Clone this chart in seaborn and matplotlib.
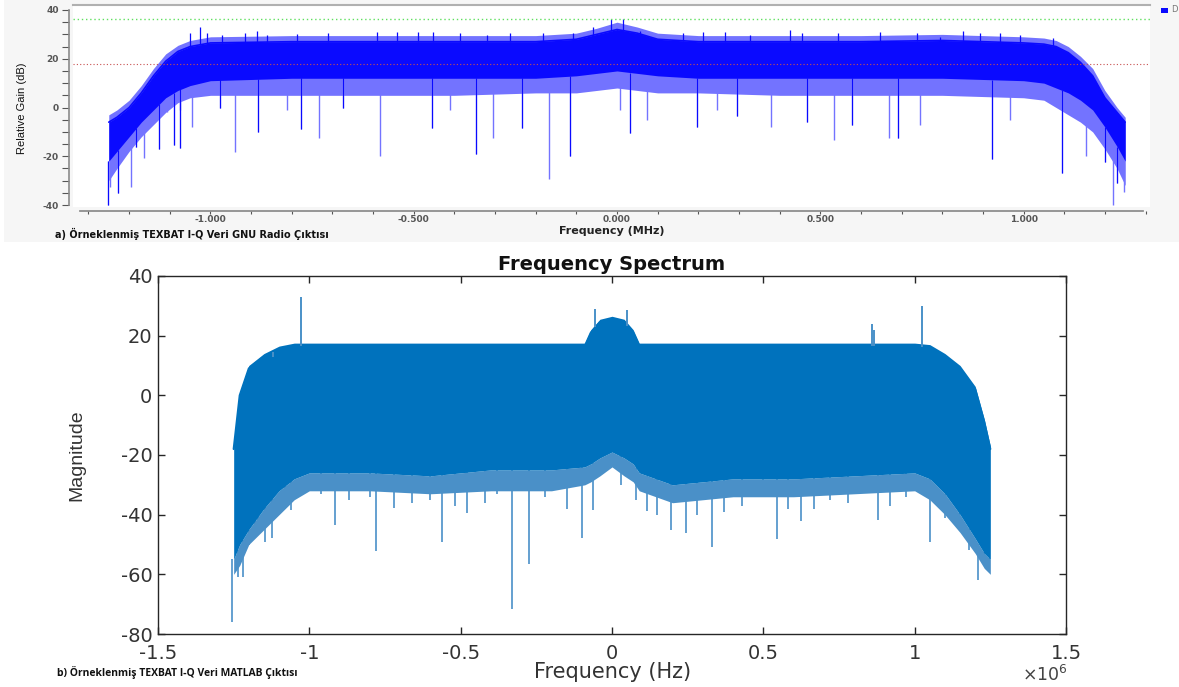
import matplotlib
matplotlib.use("Agg")
import matplotlib.pyplot as plt
from matplotlib.patches import Rectangle
from matplotlib.ticker import MultipleLocator, FuncFormatter
import numpy as np
import seaborn as sns

# ---- panel a: GNU Radio spectrum (MHz, dB) ----
freq_a = [-1.25, -1.23, -1.20, -1.17, -1.14, -1.11, -1.08, -1.05, -1.00, -0.80, -0.60,
          -0.40, -0.20, -0.10, -0.05, 0.00, 0.05, 0.10, 0.20, 0.40, 0.60, 0.80,
          1.00, 1.05, 1.08, 1.11, 1.14, 1.17, 1.20, 1.23, 1.25]
peak_a = [-3, -1, 3, 9, 16, 22, 25.5, 27.5, 29, 29.5, 29.5, 29.5, 29.5, 30.5, 32.5,
          35, 33, 30.5, 29.5, 29.5, 29.5, 30, 29, 28.5, 27.5, 25, 21, 16, 7, 0, -4]
core_hi_a = [-6, -4, 0, 6, 13, 19, 23, 25, 26.5, 27, 27, 27, 27, 28, 30,
             32, 30.5, 28, 27, 27, 27, 27.5, 26.5, 26, 25, 22.5, 18.5, 13, 4, -2, -6]
core_lo_a = [-22, -18, -12, -6, -1, 4, 7, 9, 11, 12, 12, 12, 12, 13, 14,
             15, 14, 13, 12, 12, 12, 12, 11, 10, 8, 6, 3, -1, -8, -16, -22]
floor_a = [-30, -25, -18, -12, -7, -2, 2, 4, 5, 5, 5, 5, 6, 6, 7,
           8, 7, 6, 6, 5, 5, 5, 4, 3, 0, -3, -6, -10, -17, -25, -32]
dip_f_a = [-1.252, -1.247, -1.227, -1.196, -1.183, -1.163, -1.126, -1.108, -1.09, -1.075,
           -1.074, -1.046, -0.977, -0.939, -0.882, -0.812, -0.776, -0.732, -0.674, -0.583,
           -0.455, -0.41, -0.347, -0.305, -0.234, -0.167, -0.116, 0.007, 0.032, 0.073,
           0.197, 0.245, 0.294, 0.379, 0.467, 0.534, 0.578, 0.669, 0.691, 0.745,
           0.922, 0.967, 1.095, 1.154, 1.20, 1.22, 1.23, 1.247]
dip_v_a = [-40, -32.6, -35, -32.6, -16, -20.7, -17, -1.7, -15.4, -1.2,
           -16.7, -8, 0, -18.3, -10, -1, -9, -12.5, -0.4, -20,
           -8.5, -1, -19, -12.5, -8.5, -29.4, -20, -1, -10.5, -5,
           -8, -1, -3.5, -8, -6, -13.3, -7, -12.6, -12.5, -7,
           -21, -5, -27, -20, -22.3, -40, -31, -34.6]
tip_f_a = [-1.05, -1.026, -1.009, -0.972, -0.915, -0.886, -0.862, -0.788, -0.711, -0.591,
           -0.542, -0.489, -0.452, -0.386, -0.32, -0.263, -0.182, -0.108, -0.059, -0.015,
           0.015, 0.057, 0.163, 0.212, 0.266, 0.327, 0.426, 0.454, 0.544, 0.647,
           0.737, 0.795, 0.851, 0.893, 0.942, 0.991, 1.073]
tip_v_a = [30.4, 33, 30.4, 29.8, 30.4, 31.4, 29.8, 30.2, 30.4, 31.1,
           31.1, 31.1, 31.1, 30.4, 29.8, 30.4, 30.4, 30.4, 33, 36.3,
           36.3, 31.5, 30.4, 31.1, 31.1, 29.8, 31.7, 30.4, 30.4, 31.1,
           30.4, 29, 31.4, 30.4, 30.6, 29.8, 28.4]
green_level = 36.5
red_level = 18

# ---- panel b: MATLAB spectrum (Hz, magnitude) ----
freq_b = [-1.25e6, -1.23e6, -1.20e6, -1.15e6, -1.10e6, -1.05e6, -1.00e6, -0.80e6, -0.60e6,
          -0.40e6, -0.20e6, -0.09e6, -0.07e6, -0.04e6, 0.0, 0.04e6, 0.07e6, 0.09e6,
          0.20e6, 0.40e6, 0.60e6, 0.80e6, 1.00e6, 1.05e6, 1.10e6, 1.15e6, 1.20e6, 1.23e6, 1.25e6]
core_hi_b = [-18, 0, 9, 13, 15.5, 16.5, 16.5, 16.5, 16.5, 16.5, 16.5, 16.5, 21, 24.5,
             25.5, 24.5, 21, 16.5, 16.5, 16.5, 16.5, 16.5, 16.5, 16, 13, 9, 2, -9, -18]
peak_b = [-17, 1, 10, 14, 16.5, 17.5, 17.5, 17.5, 17.5, 17.5, 17.5, 17.5, 22, 25.5,
          26.5, 25.5, 22, 17.5, 17.5, 17.5, 17.5, 17.5, 17.5, 17, 14, 10, 3, -8, -17]
core_lo_b = [-55, -50, -45, -38, -32, -28, -26, -26, -27, -25, -25, -24, -23, -21,
             -19, -21, -23, -26, -30, -28, -28, -27, -26, -28, -33, -40, -48, -53, -55]
floor_b = [-60, -57, -50, -45, -40, -35, -32, -32, -33, -32, -32, -30, -29, -27,
           -24, -27, -29, -32, -36, -34, -34, -33, -32, -35, -40, -46, -53, -58, -60]
dip_f_b = [-1.254e6, -1.237e6, -1.22e6, -1.2e6, -1.18e6, -1.17e6, -1.145e6, -1.123e6, -1.08e6,
           -1.06e6, -0.96e6, -0.914e6, -0.87e6, -0.80e6, -0.78e6, -0.72e6, -0.66e6, -0.60e6,
           -0.561e6, -0.52e6, -0.478e6, -0.42e6, -0.38e6, -0.33e6, -0.274e6, -0.22e6, -0.15e6,
           -0.099e6, -0.063e6, 0.03e6, 0.08e6, 0.116e6, 0.15e6, 0.195e6, 0.244e6, 0.28e6,
           0.33e6, 0.37e6, 0.43e6, 0.50e6, 0.545e6, 0.58e6, 0.624e6, 0.667e6, 0.72e6,
           0.78e6, 0.88e6, 0.92e6, 0.97e6, 1.052e6, 1.10e6, 1.145e6, 1.18e6, 1.21e6,
           1.228e6, 1.244e6]
dip_v_b = [-76, -61, -61, -50, -46.7, -42, -49.3, -47.7, -38, -38.3, -33, -43.3, -35, -34,
           -52.3, -37.7, -36, -35, -49, -37, -39.6, -36, -33, -71.7, -56.7, -34, -38,
           -47.8, -38.3, -30, -35, -38.9, -40, -45, -46, -40, -51, -39, -37, -34, -48.3,
           -38, -42, -38, -35, -36, -41.7, -37, -34, -49, -41, -45, -52, -62, -57, -59]
tip_f_b = [-1.027e6, -1.12e6, -0.055e6, 0.05e6, 0.858e6, 0.865e6, 1.023e6]
tip_v_b = [33, 13, 29, 28.5, 24, 22, 30]

sns.set_theme(style="white")
plt.rcParams["axes.unicode_minus"] = False

W, H = 1179, 687
fig = plt.figure(figsize=(W / 100, H / 100), dpi=100)
fig.patch.set_facecolor("white")


def fx(x):
    return x / W


def fy(y):
    return 1 - y / H


# grey backdrop of the GNU Radio screenshot
fig.patches.append(Rectangle((fx(4), fy(242)), 1 - fx(4), 242 / H, transform=fig.transFigure,
                             facecolor="#f6f6f6", edgecolor="none", zorder=-5))

# ---------------- panel a ----------------
ax1 = fig.add_axes([fx(73), fy(207), 1077 / W, 202 / H])
ax1.set_facecolor("white")
blue = "#0a0aff"
light = "#7373ff"
ax1.fill_between(freq_a, floor_a, peak_a, color=light, lw=0, zorder=2)
ax1.fill_between(freq_a, core_lo_a, core_hi_a, color=blue, lw=0, zorder=3)
sns.lineplot(x=freq_a, y=core_hi_a, ax=ax1, color=blue, lw=1.2, zorder=3)
ax1.vlines(dip_f_a, dip_v_a, np.interp(dip_f_a, freq_a, core_lo_a), color=light, lw=1.0, zorder=2)
ax1.vlines(dip_f_a[::2], dip_v_a[::2], np.interp(dip_f_a[::2], freq_a, core_lo_a), color=blue, lw=0.8, zorder=3)
ax1.vlines(tip_f_a, np.interp(tip_f_a, freq_a, core_hi_a), tip_v_a, color=blue, lw=0.9, zorder=3)
ax1.axhline(green_level, color="#5fe05f", lw=1.0, ls=(0, (1, 2)), zorder=4)
ax1.axhline(red_level, color="#c85050", lw=0.8, ls=(0, (1, 2)), zorder=4)

ax1.set_xlim(-1.338, 1.311)
ax1.set_ylim(-40.8, 42.05)
ax1.xaxis.set_major_locator(MultipleLocator(0.5))
ax1.xaxis.set_minor_locator(MultipleLocator(0.1))
ax1.xaxis.set_major_formatter(FuncFormatter(lambda v, p: f"{v:.3f}"))
ax1.yaxis.set_major_locator(MultipleLocator(20))
ax1.yaxis.set_minor_locator(MultipleLocator(5))
ax1.spines["right"].set_visible(False)
ax1.spines["top"].set_color("#b0b0b0")
ax1.spines["top"].set_linewidth(1.5)
ax1.spines["left"].set_color("#8a8a8a")
ax1.spines["left"].set_linewidth(1.2)
ax1.spines["left"].set_position(("outward", 3))
ax1.spines["left"].set_bounds(-40, 40)
ax1.spines["bottom"].set_color("#8a8a8a")
ax1.spines["bottom"].set_position(("outward", 3))
ax1.spines["bottom"].set_bounds(-1.32, 1.295)
ax1.tick_params(axis="both", which="both", direction="out", bottom=True, left=True,
                top=False, right=False, colors="#555555", labelsize=6.5, width=0.8)
ax1.tick_params(axis="x", which="both", length=2.5, pad=0.5)
ax1.tick_params(axis="y", which="both", length=5, pad=2)
for lab in ax1.get_xticklabels() + ax1.get_yticklabels():
    lab.set_fontweight("bold")
ax1.set_xlabel("")
ax1.set_ylabel("")
fig.text(fx(22), fy(108), "Relative Gain (dB)", rotation=90, ha="center", va="center",
         fontsize=8, family=["Liberation Sans Narrow", "Liberation Sans"], color="#111111")
fig.text(fx(612), fy(231), "Frequency (MHz)", ha="center", va="center", fontsize=8,
         fontweight="bold", family="DejaVu Sans", color="#222222")
fig.text(fx(55), fy(234), "a) Örneklenmiş TEXBAT I-Q Veri GNU Radio Çıktısı", ha="left",
         va="center", fontsize=7, fontweight="bold", family="DejaVu Sans", color="#111111")

# legend stub at the right edge
fig.patches.append(Rectangle((fx(1161), fy(13)), 7 / W, 5 / H, transform=fig.transFigure,
                             facecolor=blue, edgecolor="none"))
fig.text(fx(1171), fy(10), "D", ha="left", va="center", fontsize=6, color="#777777")

# ---------------- panel b ----------------
ax2 = fig.add_axes([fx(158), fy(634), 908 / W, 358 / H])
mblue = "#0072bd"
mlight = "#4a90c8"
ax2.fill_between(freq_b, floor_b, core_lo_b, color=mlight, lw=0, zorder=2)
ax2.fill_between(freq_b, core_lo_b, peak_b, color=mblue, lw=0, zorder=3)
sns.lineplot(x=freq_b, y=core_hi_b, ax=ax2, color=mblue, lw=1.5, zorder=3)
ax2.vlines(dip_f_b, dip_v_b, np.interp(dip_f_b, freq_b, core_lo_b), color=mlight, lw=1.2, zorder=2)
ax2.vlines(tip_f_b, np.interp(tip_f_b, freq_b, core_hi_b), tip_v_b, color=mlight, lw=1.4, zorder=3)

ax2.set_xlim(-1.5e6, 1.5e6)
ax2.set_ylim(-80, 40)
ax2.xaxis.set_major_locator(MultipleLocator(0.5e6))
ax2.xaxis.set_major_formatter(FuncFormatter(lambda v, p: f"{v / 1e6:g}"))
ax2.yaxis.set_major_locator(MultipleLocator(20))
for side in ax2.spines.values():
    side.set_visible(True)
    side.set_color("#262626")
    side.set_linewidth(1.0)
ax2.tick_params(axis="both", which="major", direction="in", top=True, right=True,
                bottom=True, left=True, length=5, width=1.0, colors="#262626",
                labelsize=14, pad=4)
ax2.tick_params(axis="x", pad=7)
for lab in ax2.get_xticklabels() + ax2.get_yticklabels():
    lab.set_family("DejaVu Sans")
    lab.set_color("#333333")
ax2.set_xlabel("")
ax2.set_ylabel("")
ax2.set_title("Frequency Spectrum", fontsize=14, fontweight="bold", family="DejaVu Sans",
              color="#111111", pad=4)
fig.text(fx(77), fy(455), "Magnitude", rotation=90, ha="center", va="center", fontsize=14,
         family=["Liberation Sans Narrow", "Liberation Sans"], color="#333333")
fig.text(fx(613), fy(672), "Frequency (Hz)", ha="center", va="center", fontsize=15,
         family="DejaVu Sans", color="#333333")
fig.text(fx(1068), fy(675), r"$\times\mathregular{10^{6}}$", ha="right", va="center", fontsize=12.5,
         family="DejaVu Sans", color="#444444")
fig.text(fx(57), fy(672), "b) Örneklenmiş TEXBAT I-Q Veri MATLAB Çıktısı", ha="left",
         va="center", fontsize=7.5, fontweight="bold", family="Open Sans", color="#111111")

fig.savefig("out.png", dpi=100)
